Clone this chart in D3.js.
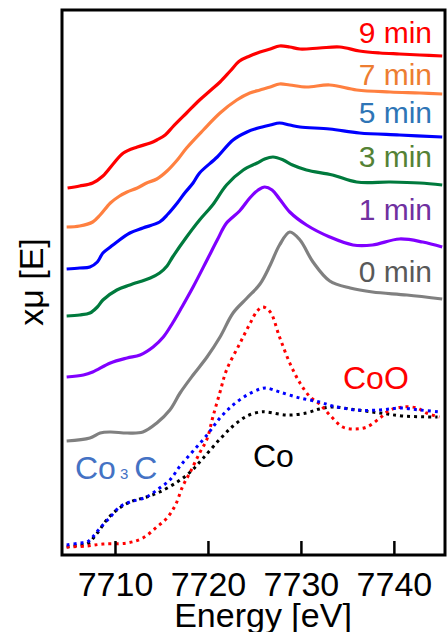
<!DOCTYPE html>
<html>
<head>
<meta charset="utf-8">
<script src="https://cdn.jsdelivr.net/npm/d3@7"></script>
<style>
  body { margin: 0; background: #fff; }
  svg { display: block; font-family: "Liberation Sans", Arial, sans-serif; }
</style>
</head>
<body>
<svg id="chart" width="447" height="632"></svg>
<script>
// energies [eV] and xmu values (stacked, arbitrary units)
var min9E = [7704.9,7706.2,7707.6,7708.7,7709.8,7710.9,7712.4,7713.8,7714.5,7715.4,7716.2,7717.7,7719.1,7720.2,7721.3,7722.4,7723.4,7724.5,7725.6,7726.7,7727.7,7728.8,7729.9,7732.0,7734.2,7736.3,7738.5,7740.6,7742.8,7745.2];
var min9Y = [3.67,3.69,3.72,3.79,3.91,4.02,4.08,4.12,4.15,4.20,4.28,4.42,4.55,4.64,4.73,4.84,4.94,4.99,5.03,5.06,5.09,5.08,5.06,5.07,5.08,5.04,5.02,5.01,5.00,4.99];

var min7E = [7704.8,7706.2,7707.6,7708.4,7709.5,7710.5,7711.3,7712.4,7713.4,7714.5,7715.6,7716.7,7717.7,7719.5,7721.3,7723.1,7724.5,7725.6,7726.7,7727.7,7728.8,7730.6,7733.1,7736.0,7739.6,7742.8,7745.2];
var min7Y = [3.28,3.29,3.33,3.40,3.52,3.59,3.63,3.67,3.72,3.76,3.84,3.95,4.07,4.25,4.42,4.55,4.62,4.65,4.68,4.71,4.70,4.68,4.70,4.65,4.63,4.62,4.61];

var min5E = [7704.8,7706.2,7707.3,7708.1,7708.7,7709.5,7710.2,7711.6,7713.0,7714.8,7715.7,7716.7,7717.5,7718.4,7719.1,7721.0,7722.7,7724.2,7725.4,7726.7,7727.7,7728.8,7729.9,7733.1,7736.3,7740.6,7745.2];
var min5Y = [2.86,2.87,2.88,2.93,3.02,3.08,3.13,3.22,3.27,3.33,3.41,3.52,3.62,3.72,3.82,3.98,4.15,4.23,4.27,4.30,4.32,4.30,4.28,4.26,4.22,4.20,4.18];

var min3E = [7704.8,7706.2,7707.3,7708.1,7708.7,7710.2,7711.6,7713.8,7714.8,7715.6,7716.2,7717.7,7719.1,7720.5,7722.0,7723.8,7725.3,7726.1,7727.0,7728.1,7729.1,7730.6,7733.4,7736.0,7739.6,7742.8,7745.2];
var min3Y = [2.39,2.40,2.42,2.48,2.55,2.65,2.70,2.77,2.82,2.89,2.98,3.18,3.35,3.50,3.70,3.85,3.92,3.96,3.98,3.95,3.90,3.85,3.80,3.73,3.73,3.72,3.70];

var min1E = [7704.8,7706.6,7707.6,7709.5,7711.3,7712.7,7714.1,7715.2,7716.2,7717.2,7718.4,7719.9,7721.0,7722.0,7723.4,7724.5,7725.4,7726.1,7726.9,7727.7,7728.8,7730.6,7733.1,7735.6,7737.7,7740.6,7743.1,7745.2];
var min1Y = [1.78,1.80,1.83,1.92,1.97,2.00,2.08,2.18,2.32,2.48,2.68,2.95,3.15,3.32,3.44,3.57,3.65,3.68,3.65,3.56,3.43,3.30,3.18,3.10,3.10,3.16,3.13,3.08];

var min0E = [7704.8,7707.3,7708.4,7709.5,7711.3,7713.0,7714.5,7715.9,7717.0,7718.4,7719.9,7721.3,7722.7,7724.2,7725.6,7726.7,7727.7,7728.8,7729.9,7731.3,7733.1,7735.3,7737.7,7741.4,7745.2];
var min0Y = [1.14,1.17,1.22,1.23,1.22,1.23,1.32,1.45,1.62,1.80,1.98,2.18,2.42,2.57,2.71,2.90,3.10,3.23,3.15,2.93,2.74,2.67,2.63,2.60,2.56];

// reference spectra
var cooE = [7704.8,7707.0,7708.7,7711.3,7713.0,7714.5,7715.6,7716.5,7717.3,7718.1,7719.1,7719.9,7720.5,7721.3,7722.0,7723.4,7724.5,7725.3,7725.9,7726.7,7727.7,7728.8,7729.9,7731.0,7732.0,7733.1,7734.5,7735.8,7737.1,7738.5,7739.6,7741.0,7742.5,7743.5,7744.9];
var cooY = [0.08,0.09,0.11,0.12,0.17,0.28,0.37,0.50,0.69,0.83,1.02,1.16,1.37,1.63,1.85,2.11,2.31,2.44,2.48,2.43,2.18,1.92,1.72,1.58,1.51,1.40,1.28,1.26,1.28,1.37,1.45,1.48,1.47,1.42,1.38];

var co3cE = [7704.8,7706.2,7707.0,7707.6,7708.4,7709.5,7710.5,7711.6,7713.4,7714.8,7715.9,7717.0,7718.4,7719.9,7721.3,7722.7,7724.2,7725.6,7726.3,7727.7,7729.9,7732.0,7733.4,7736.0,7738.5,7740.6,7742.8,7744.9];
var co3cY = [0.10,0.12,0.13,0.18,0.27,0.38,0.48,0.53,0.58,0.67,0.75,0.89,1.04,1.20,1.37,1.50,1.60,1.66,1.67,1.63,1.57,1.53,1.49,1.45,1.45,1.47,1.45,1.43];

var coE = [7704.8,7706.2,7707.0,7708.1,7709.1,7710.2,7711.6,7713.4,7714.8,7716.7,7718.1,7719.5,7721.3,7722.7,7724.2,7725.6,7726.3,7728.5,7730.6,7732.0,7733.4,7736.0,7738.5,7741.0,7744.7];
var coY = [0.08,0.10,0.11,0.22,0.35,0.45,0.53,0.58,0.63,0.73,0.83,0.97,1.16,1.29,1.39,1.43,1.43,1.40,1.42,1.46,1.48,1.45,1.42,1.39,1.38];

var xTicks = [7710, 7720, 7730, 7740];

var svg = d3.select("#chart");
// plot box (note: "top" is reserved on window, so prefixed names)
var pLeft = 62, pRight = 445, pTop = 10, pBottom = 555;

var x = d3.scaleLinear().domain([7704.3, 7745.5]).range([pLeft, pRight]);
var y = d3.scaleLinear().domain([0, 5.45]).range([pBottom, pTop]);

function pts(E, Y) {
    return E.map(function(e, i){ return [e, Y[i]]; });
}

var line = d3.line()
    .x(function(d){ return x(d[0]); })
    .y(function(d){ return y(d[1]); })
    .curve(d3.curveCatmullRom.alpha(0.5));

var solid = [
    {E: min0E, Y: min0Y, color: "#808080"},
    {E: min1E, Y: min1Y, color: "#8000ff"},
    {E: min3E, Y: min3Y, color: "#007a3d"},
    {E: min5E, Y: min5Y, color: "#0000ff"},
    {E: min7E, Y: min7Y, color: "#ff8040"},
    {E: min9E, Y: min9Y, color: "#ff0000"}
];

var dotted = [
    {E: coE, Y: coY, color: "#000000"},
    {E: cooE, Y: cooY, color: "#ff0000"},
    {E: co3cE, Y: co3cY, color: "#0000ff"}
];

var plot = svg.append("g");

plot.selectAll(".ref")
    .data(dotted)
    .enter().append("path")
    .attr("class", "ref")
    .attr("d", function(d){ return line(pts(d.E, d.Y)); })
    .attr("fill", "none")
    .attr("stroke", function(d){ return d.color; })
    .attr("stroke-width", 3)
    .attr("stroke-dasharray", "3,4");

plot.selectAll(".spec")
    .data(solid)
    .enter().append("path")
    .attr("class", "spec")
    .attr("d", function(d){ return line(pts(d.E, d.Y)); })
    .attr("fill", "none")
    .attr("stroke", function(d){ return d.color; })
    .attr("stroke-width", 3.2)
    .attr("stroke-linejoin", "round");

// series labels
var labels = [
    {t: "9 min", yy: 43, c: "#ff0000"},
    {t: "7 min", yy: 85, c: "#ed7d31"},
    {t: "5 min", yy: 123, c: "#2e75b6"},
    {t: "3 min", yy: 167, c: "#548235"},
    {t: "1 min", yy: 220, c: "#7030a0"},
    {t: "0 min", yy: 282, c: "#595959"}
];
svg.selectAll(".lab")
    .data(labels)
    .enter().append("text")
    .attr("class", "lab")
    .attr("x", 432)
    .attr("y", function(d){ return d.yy; })
    .attr("text-anchor", "end")
    .attr("font-size", 30)
    .attr("fill", function(d){ return d.c; })
    .text(function(d){ return d.t; });

svg.append("text").attr("x", 343).attr("y", 389)
    .attr("font-size", 32).attr("fill", "#ff0000").text("CoO");
svg.append("text").attr("x", 253).attr("y", 467)
    .attr("font-size", 32).attr("fill", "#000").text("Co");
var c3 = svg.append("text").attr("x", 75).attr("y", 479)
    .attr("font-size", 32).attr("fill", "#4472c4");
c3.append("tspan").text("Co");
c3.append("tspan").attr("dx", 4).attr("font-size", 15).text("3");
c3.append("tspan").attr("dx", 6).text("C");

// axis
var xAxis = d3.axisBottom(x).tickValues(xTicks).tickSizeInner(-14).tickSizeOuter(0).tickFormat(d3.format("d"));
var ax = svg.append("g").attr("transform", "translate(0," + pBottom + ")").call(xAxis);
ax.select(".domain").remove();
ax.selectAll(".tick line").attr("stroke", "#000").attr("stroke-width", 2.5);
ax.selectAll(".tick text")
    .attr("y", 41).attr("dy", null)
    .attr("font-size", 34)
    .attr("font-family", "Liberation Sans, Arial, sans-serif")
    .attr("fill", "#000");

// frame
svg.append("rect")
    .attr("x", pLeft).attr("y", pTop)
    .attr("width", pRight - pLeft).attr("height", pBottom - pTop)
    .attr("fill", "none").attr("stroke", "#000").attr("stroke-width", 3);

svg.append("text").attr("x", 263).attr("y", 627)
    .attr("text-anchor", "middle").attr("font-size", 34).text("Energy [eV]");
svg.append("text")
    .attr("transform", "translate(43,282) rotate(-90)")
    .attr("text-anchor", "middle").attr("font-size", 34).text("xμ [E]");
</script>
</body>
</html>
